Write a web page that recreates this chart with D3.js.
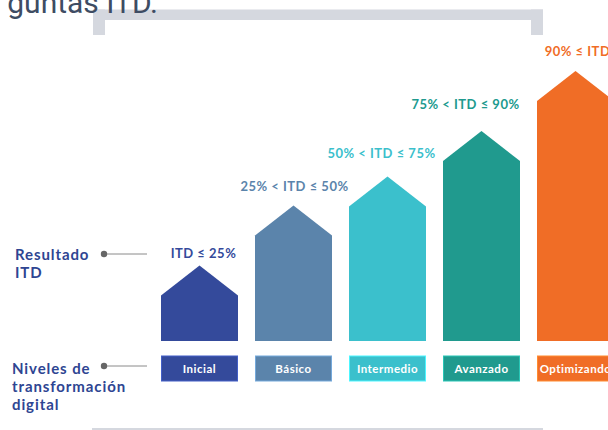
<!DOCTYPE html>
<html>
<head>
<meta charset="utf-8">
<script src="https://cdn.jsdelivr.net/npm/d3@7"></script>
<style>
  html, body { margin: 0; padding: 0; background: #fff; overflow: hidden; }
  svg { display: block; }
</style>
</head>
<body>
<svg id="chart" width="608" height="430"></svg>
<script>
// niveles de transformación digital
const levels = ["Inicial", "Básico", "Intermedio", "Avanzado", "Optimizando"];
const ranges = ["ITD ≤ 25%", "25% < ITD ≤ 50%", "50% < ITD ≤ 75%", "75% < ITD ≤ 90%", "90% ≤ ITD"];
// relative bar height (shoulder of the arrow)
const barLevel = [19, 44, 56, 75, 100];

const colors = ["#344a9b", "#5b84ab", "#3bc0cc", "#209a8e", "#f06d26"];
// small hand nudges for the range labels
const labelDx = [4, 1, -6, -16, 2];
const labelGap = [7, 14, 19, 22, 15];

const svg = d3.select("#chart");
const bottom = 341;
const tip = 30;

const x = d3.scaleBand()
  .domain(levels)
  .range([161, 614])
  .paddingInner(17 / 94)
  .paddingOuter(0);

const y = d3.scaleLinear()
  .domain([0, 100])
  .range([bottom, 101]);

// frame bits at the top and bottom
const frame = "#d5d8df";
svg.append("rect").attr("x", 93).attr("y", 9.5).attr("width", 450).attr("height", 10.5).attr("fill", frame);
svg.append("rect").attr("x", 93).attr("y", 9.5).attr("width", 12).attr("height", 25.5).attr("fill", frame);
svg.append("rect").attr("x", 531).attr("y", 9.5).attr("width", 12).attr("height", 25.5).attr("fill", frame);
svg.append("rect").attr("x", 92).attr("y", 428).attr("width", 451).attr("height", 4).attr("fill", frame);

svg.append("text")
  .attr("x", 158).attr("y", 13)
  .attr("text-anchor", "end")
  .attr("font-family", "Roboto, 'Liberation Sans', sans-serif")
  .attr("font-size", 30)
  .attr("fill", "#3e4c63")
  .text("guntas ITD.");

const data = levels.map((d, i) => ({ level: d, range: ranges[i], v: barLevel[i], i }));

// arrows
svg.append("g")
  .selectAll("path")
  .data(data)
  .join("path")
  .attr("d", d => {
    const x0 = x(d.level), x1 = x0 + x.bandwidth(), xm = x0 + x.bandwidth() / 2;
    const ys = y(d.v);
    return `M${x0},${bottom}L${x0},${ys}L${xm},${ys - tip}L${x1},${ys}L${x1},${bottom}Z`;
  })
  .attr("fill", d => colors[d.i]);

// range labels
svg.append("g")
  .selectAll("text")
  .data(data)
  .join("text")
  .attr("x", d => x(d.level) + x.bandwidth() / 2 + labelDx[d.i])
  .attr("y", d => y(d.v) - tip - labelGap[d.i])
  .attr("text-anchor", "middle")
  .attr("font-family", "Lato, sans-serif")
  .attr("font-weight", "bold")
  .attr("font-size", 13)
  .attr("letter-spacing", 0.5)
  .attr("fill", d => colors[d.i])
  .text(d => d.range);

// level boxes
const boxes = svg.append("g");
boxes.selectAll("rect")
  .data(data)
  .join("rect")
  .attr("x", d => x(d.level) + 0.5)
  .attr("y", 356)
  .attr("width", x.bandwidth() - 1)
  .attr("height", 25)
  .attr("fill", d => colors[d.i])
  .attr("stroke", d => d3.color(colors[d.i]).brighter(0.7))
  .attr("stroke-width", 1);

boxes.selectAll("text")
  .data(data)
  .join("text")
  .attr("x", d => x(d.level) + x.bandwidth() / 2)
  .attr("y", 372.5)
  .attr("text-anchor", "middle")
  .attr("font-family", "Lato, sans-serif")
  .attr("font-weight", "bold")
  .attr("font-size", 11.5)
  .attr("letter-spacing", 0.5)
  .attr("fill", "#fff")
  .text(d => d.level);

// left side captions
const navy = "#2e4592";
const captions = [
  { lines: ["Resultado", "ITD"], x: 15, y: 260, dot: 254 },
  { lines: ["Niveles de", "transformación", "digital"], x: 12, y: 374, dot: 366 }
];
captions.forEach(c => {
  const t = svg.append("text")
    .attr("font-family", "Lato, sans-serif")
    .attr("font-weight", "bold")
    .attr("font-size", 15)
    .attr("letter-spacing", 0.9)
    .attr("fill", navy);
  c.lines.forEach((l, k) => {
    t.append("tspan").attr("x", c.x).attr("y", c.y + k * 18).text(l);
  });
  svg.append("line")
    .attr("x1", 104).attr("x2", 147)
    .attr("y1", c.dot).attr("y2", c.dot)
    .attr("stroke", "#8a8a8a").attr("stroke-width", 1);
  svg.append("circle")
    .attr("cx", 104).attr("cy", c.dot).attr("r", 3.2)
    .attr("fill", "#666");
});
</script>
</body>
</html>
